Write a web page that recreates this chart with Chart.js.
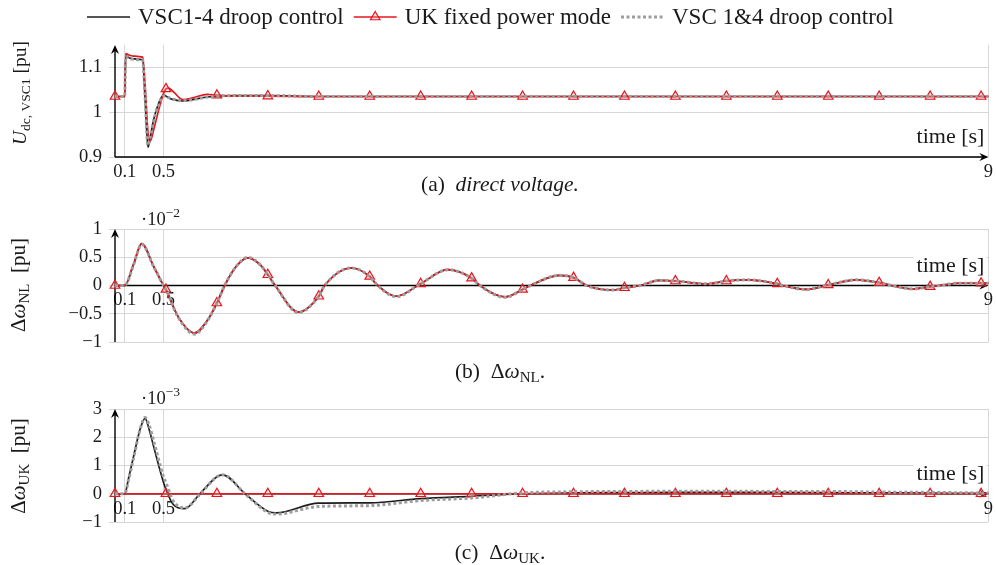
<!DOCTYPE html>
<html>
<head>
<meta charset="utf-8">
<script src="https://cdn.jsdelivr.net/npm/chart.js@4.4.1/dist/chart.umd.min.js"></script>
<style>
  html, body { margin: 0; padding: 0; background: #fff; }
  #page { position: relative; width: 997px; height: 565px; overflow: hidden; }
  #page canvas { position: absolute; left: 0; }
</style>
</head>
<body>
<div id="page">
  <canvas id="chartA" width="997" height="205" style="top:0px"></canvas>
  <canvas id="chartB" width="997" height="195" style="top:195px"></canvas>
  <canvas id="chartC" width="997" height="185" style="top:380px"></canvas>
</div>
<script>
// red markers are placed every 0.525 s
const markerTimes = [0, 0.525, 1.05, 1.575, 2.1, 2.625, 3.15, 3.675, 4.2, 4.725, 5.25, 5.775, 6.3, 6.825, 7.35, 7.875, 8.4, 8.925];

const xTickValues = [0.1, 0.5, 9];
const xTickLabels = ['0.1', '0.5', '9'];

// (a) direct voltage [pu]
const tA = [0, 0.1, 0.11, 0.15, 0.2, 0.25, 0.285, 0.31, 0.34, 0.36, 0.4, 0.45, 0.5, 0.525, 0.55, 0.6, 0.7, 0.8, 0.95, 1.05, 1.2, 1.575, 2.1, 2.625, 3.15, 3.675, 4.2, 4.725, 5.25, 5.775, 6.3, 6.825, 7.35, 7.875, 8.4, 8.925, 9];
const droopA = [1.035, 1.035, 1.126, 1.121, 1.119, 1.118, 1.117, 1.03, 0.922, 0.94, 0.985, 1.02, 1.038, 1.036, 1.032, 1.028, 1.025, 1.028, 1.034, 1.036, 1.037, 1.037, 1.035, 1.035, 1.035, 1.035, 1.035, 1.035, 1.035, 1.035, 1.035, 1.035, 1.035, 1.035, 1.035, 1.035, 1.035];
const fixedA = [1.035, 1.035, 1.131, 1.127, 1.125, 1.124, 1.123, 1.06, 0.955, 0.934, 0.962, 1.005, 1.042, 1.052, 1.054, 1.046, 1.028, 1.032, 1.04, 1.038, 1.036, 1.036, 1.035, 1.035, 1.035, 1.035, 1.035, 1.035, 1.035, 1.035, 1.035, 1.035, 1.035, 1.035, 1.035, 1.035, 1.035];
const droop14A = [1.035, 1.035, 1.124, 1.12, 1.118, 1.117, 1.116, 1.035, 0.926, 0.942, 0.982, 1.016, 1.036, 1.036, 1.033, 1.029, 1.026, 1.028, 1.034, 1.036, 1.037, 1.037, 1.035, 1.035, 1.035, 1.035, 1.035, 1.035, 1.035, 1.035, 1.035, 1.035, 1.035, 1.035, 1.035, 1.035, 1.035];
const yTicksA = [0.9, 1, 1.1];

// (b) frequency deviation NL [x1e-2 pu]
const tB = [0, 0.1, 0.19, 0.275, 0.4, 0.5, 0.525, 0.65, 0.82, 0.95,
  1.05, 1.13, 1.25, 1.37, 1.5, 1.575, 1.65, 1.89, 2.1, 2.16,
  2.44, 2.625, 2.69, 2.9, 3.12, 3.15, 3.43, 3.675, 3.76, 4.02,
  4.2, 4.28, 4.58, 4.725, 4.86, 5.13, 5.25, 5.41, 5.61, 5.775,
  6.1, 6.3, 6.5, 6.825, 6.88, 7.12, 7.35, 7.64, 7.875, 8.0,
  8.22, 8.4, 8.5, 8.7, 8.925, 9];
const droopB = [0, 0, 0.37, 0.74, 0.33, 0, -0.07, -0.55, -0.84, -0.62,
  -0.31, 0, 0.34, 0.49, 0.36, 0.19, 0, -0.47, -0.19, 0,
  0.31, 0.16, 0.03, -0.19, 0, 0.03, 0.28, 0.13, 0, -0.2,
  -0.07, 0, 0.18, 0.14, 0, -0.08, -0.04, 0, 0.09, 0.08,
  0.03, 0.08, 0.1, 0.03, 0, -0.07, 0.01, 0.1, 0.05, 0,
  -0.06, -0.02, 0, 0.04, 0.04, 0.04];
const fixedB = [0, 0, 0.37, 0.74, 0.33, 0, -0.07, -0.55, -0.84, -0.62,
  -0.31, 0, 0.34, 0.49, 0.36, 0.19, 0, -0.47, -0.19, 0,
  0.31, 0.16, 0.03, -0.19, 0, 0.03, 0.28, 0.13, 0, -0.2,
  -0.07, 0, 0.18, 0.14, 0, -0.08, -0.04, 0, 0.09, 0.08,
  0.03, 0.08, 0.1, 0.03, 0, -0.07, 0.01, 0.1, 0.05, 0,
  -0.06, -0.02, 0, 0.04, 0.04, 0.04];
const droop14B = [0, 0, 0.36, 0.73, 0.33, 0, -0.07, -0.56, -0.86, -0.63,
  -0.31, 0, 0.34, 0.5, 0.36, 0.19, 0, -0.48, -0.19, 0,
  0.31, 0.16, 0.03, -0.2, 0, 0.03, 0.28, 0.13, 0, -0.21,
  -0.07, 0, 0.18, 0.14, 0, -0.08, -0.04, 0, 0.09, 0.08,
  0.03, 0.08, 0.1, 0.03, 0, -0.07, 0.01, 0.1, 0.05, 0,
  -0.06, -0.02, 0, 0.04, 0.04, 0.04];
const yTicksB = [-1, -0.5, 0, 0.5, 1];

// (c) frequency deviation UK [x1e-3 pu]
const tC = [0, 0.1, 0.14, 0.2, 0.26, 0.31, 0.35, 0.4, 0.5, 0.525,
  0.6, 0.72, 0.875, 1.05, 1.11, 1.34, 1.575, 1.66, 2.1, 2.625,
  3.15, 3.675, 4.2, 4.725, 5.25, 5.775, 6.3, 6.825, 7.35, 7.875,
  8.4, 8.925, 9];
const droopC = [0, 0, 0.55, 1.45, 2.3, 2.67, 2.3, 1.65, 0.4, 0.15,
  -0.38, -0.53, 0, 0.6, 0.67, 0, -0.62, -0.68, -0.33, -0.32,
  -0.17, -0.09, 0, 0.03, 0.04, 0.05, 0.05, 0.05, 0.04, 0.03,
  0.02, 0.01, 0.01];
const fixedC = [0, 0, 0, 0, 0, 0, 0, 0, 0, 0,
  0, 0, 0, 0, 0, 0, 0, 0, 0, 0,
  0, 0, 0, 0, 0, 0, 0, 0, 0, 0,
  0, 0, 0];
const droop14C = [0, 0, 0.5, 1.4, 2.3, 2.7, 2.45, 1.85, 0.6, 0.4,
  -0.25, -0.5, -0.02, 0.6, 0.67, 0, -0.66, -0.72, -0.45, -0.42,
  -0.24, -0.15, 0.03, 0.07, 0.08, 0.09, 0.09, 0.08, 0.08, 0.06,
  0.05, 0.03, 0.03];
const yTicksC = [-1, 0, 1, 2, 3];

const SERIF = '"Liberation Serif", "Times New Roman", serif';
const BLACK = '#1c1c1c';
const RED = '#e3161d';
const GRAY = '#9d9d9d';
const GRID = '#d6d6d6';

Chart.defaults.font.family = SERIF;
Chart.defaults.font.size = 18.5;
Chart.defaults.color = '#1a1a1a';

const fmt = v => String(v).replace('-', '\u2212');

// text made of several runs (normal, italic, subscript, superscript)
function drawRuns(ctx, runs, x, y, align) {
  let w = 0;
  runs.forEach(r => { ctx.font = r.f; w += ctx.measureText(r.t).width; });
  let cx = align === 'center' ? x - w / 2 : align === 'right' ? x - w : x;
  ctx.textAlign = 'left';
  ctx.textBaseline = 'alphabetic';
  runs.forEach(r => {
    ctx.font = r.f;
    ctx.fillText(r.t, cx, y + (r.dy || 0));
    cx += ctx.measureText(r.t).width;
  });
  return w;
}

function arrowHead(ctx, x, y, dx, dy) {
  const px = -dy, py = dx;
  ctx.beginPath();
  ctx.moveTo(x, y);
  ctx.lineTo(x - dx * 9 + px * 4, y - dy * 9 + py * 4);
  ctx.lineTo(x - dx * 6, y - dy * 6);
  ctx.lineTo(x - dx * 9 - px * 4, y - dy * 9 - py * 4);
  ctx.closePath();
  ctx.fill();
}

const f = (size, style) => `${style || ''} ${size}px ${SERIF}`.trim();

const decor = {
  id: 'decor',
  beforeDatasetsDraw(chart, args, o) {
    const { ctx, chartArea: a, scales } = chart;
    const ay = scales.y.getPixelForValue(o.axisAt);
    ctx.save();
    ctx.strokeStyle = '#000';
    ctx.fillStyle = '#000';
    ctx.lineWidth = 1.4;
    ctx.beginPath();
    ctx.moveTo(a.left, a.bottom);
    ctx.lineTo(a.left, a.top + 4);
    ctx.moveTo(a.left, ay);
    ctx.lineTo(a.right - 4, ay);
    ctx.stroke();
    arrowHead(ctx, a.left, a.top, 0, -1);
    arrowHead(ctx, a.right, ay, 1, 0);
    ctx.restore();
  },
  afterDraw(chart, args, o) {
    const { ctx, chartArea: a, scales } = chart;
    const top = o.top;
    const ay = scales.y.getPixelForValue(o.axisAt);
    ctx.save();
    ctx.fillStyle = '#1a1a1a';

    // x-axis label with white box behind it
    ctx.font = f(22);
    const tw = ctx.measureText('time [s]').width;
    ctx.fillStyle = '#fff';
    ctx.fillRect(a.right - 4 - tw - 3, ay - 30, tw + 5, 21);
    ctx.fillStyle = '#1a1a1a';
    drawRuns(ctx, [{ t: 'time [s]', f: f(22) }], a.right - 4, ay - 14, 'right');

    // rotated y-axis title
    ctx.save();
    ctx.translate(o.yTitleX, o.yTitleY - top);
    ctx.rotate(-Math.PI / 2);
    drawRuns(ctx, o.yTitle, 0, 0, 'center');
    ctx.restore();

    if (o.exponent) {
      drawRuns(ctx, [{ t: '\u00b710', f: f(18.5) }, { t: o.exponent, f: f(13.5), dy: -8 }], 141, o.expY - top, 'left');
    }

    drawRuns(ctx, o.caption, 500, o.captionY - top, 'center');

    if (o.legend) {
      const ds = chart.data.datasets;
      const ly = 17;
      let x = 87;
      [ds[0], ds[1], ds[2]].forEach(d => {
        ctx.save();
        ctx.strokeStyle = d.borderColor;
        ctx.lineWidth = d.borderWidth;
        ctx.setLineDash(d.borderDash || []);
        ctx.beginPath();
        ctx.moveTo(x, ly);
        ctx.lineTo(x + 43, ly);
        ctx.stroke();
        ctx.setLineDash([]);
        if (d.pointStyle === 'triangle') {
          const r = 5.5, cx = x + 21.5;
          ctx.beginPath();
          ctx.moveTo(cx, ly - r);
          ctx.lineTo(cx + r * 0.866, ly + r * 0.5);
          ctx.lineTo(cx - r * 0.866, ly + r * 0.5);
          ctx.closePath();
          ctx.fillStyle = d.pointBackgroundColor;
          ctx.fill();
          ctx.strokeStyle = d.pointBorderColor;
          ctx.lineWidth = d.pointBorderWidth;
          ctx.stroke();
        }
        ctx.restore();
        x += 51;
        ctx.fillStyle = '#1a1a1a';
        x += drawRuns(ctx, [{ t: d.label, f: f(23) }], x, 24, 'left') + 10;
      });
    }
    ctx.restore();
  }
};

function series(times, values) {
  return times.map((t, i) => ({ x: t, y: values[i] }));
}

function buildPanel(id, times, droop, fixed, droop14, yMin, yMax, yTicks, padding, decorOpts) {
  const xAxisBottom = decorOpts.axisAt === yMin;
  return new Chart(document.getElementById(id), {
    type: 'line',
    data: {
      datasets: [
        {
          label: 'VSC1-4 droop control',
          data: series(times, droop),
          borderColor: BLACK,
          borderWidth: 1.7,
          pointRadius: 0,
          order: 3
        },
        {
          label: 'UK fixed power mode',
          data: series(times, fixed),
          borderColor: RED,
          borderWidth: 1.7,
          pointStyle: 'triangle',
          pointRadius: c => (c.raw && markerTimes.includes(c.raw.x) ? 5.5 : 0),
          pointBackgroundColor: 'rgba(255,170,170,0.3)',
          pointBorderColor: RED,
          pointBorderWidth: 1.2,
          order: 2
        },
        {
          label: 'VSC 1&4 droop control',
          data: series(times, droop14),
          borderColor: GRAY,
          borderWidth: 3,
          borderDash: [3, 2.5],
          pointRadius: 0,
          order: 1
        }
      ]
    },
    options: {
      responsive: false,
      animation: false,
      events: [],
      datasets: { line: { cubicInterpolationMode: 'monotone', clip: false } },
      layout: { padding: padding },
      scales: {
        x: {
          type: 'linear',
          min: 0,
          max: 9,
          position: xAxisBottom ? 'bottom' : { y: decorOpts.axisAt },
          afterBuildTicks: s => { s.ticks = xTickValues.map(v => ({ value: v })); },
          afterFit: s => { if (xAxisBottom) s.height = 48; },
          border: { display: false },
          grid: { color: GRID, lineWidth: 1, drawTicks: false },
          ticks: {
            autoSkip: false,
            maxRotation: 0,
            padding: 4,
            callback: v => xTickLabels[xTickValues.indexOf(v)]
          }
        },
        y: {
          type: 'linear',
          min: yMin,
          max: yMax,
          afterBuildTicks: s => { s.ticks = yTicks.map(v => ({ value: v })); },
          afterFit: s => { s.width = 115; },
          border: { display: false },
          grid: { color: GRID, lineWidth: 1, drawTicks: true, tickLength: 6 },
          ticks: { padding: 7, callback: v => fmt(v) }
        }
      },
      plugins: {
        legend: { display: false },
        tooltip: { enabled: false },
        decor: decorOpts
      }
    },
    plugins: [decor]
  });
}

buildPanel('chartA', tA, droopA, fixedA, droop14A, 0.9, 1.15, yTicksA,
  { top: 45, right: 8, left: 0, bottom: 0 },
  {
    top: 0, axisAt: 0.9, legend: true,
    yTitleX: 26, yTitleY: 93,
    yTitle: [{ t: 'U', f: f(19.5, 'italic') }, { t: 'dc, VSC1', f: f(13.5), dy: 4 }, { t: ' [pu]', f: f(19.5) }],
    captionY: 191,
    caption: [{ t: '(a)  ', f: f(21.5) }, { t: 'direct voltage.', f: f(21.5, 'italic') }]
  });

buildPanel('chartB', tB, droopB, fixedB, droop14B, -1, 1, yTicksB,
  { top: 34, right: 8, left: 0, bottom: 48 },
  {
    top: 195, axisAt: 0,
    yTitleX: 25, yTitleY: 285,
    yTitle: [{ t: '\u0394', f: f(21) }, { t: '\u03c9', f: f(21, 'italic') }, { t: 'NL', f: f(15), dy: 4 }, { t: '  [pu]', f: f(21) }],
    exponent: '\u22122', expY: 225,
    captionY: 378,
    caption: [{ t: '(b)  \u0394', f: f(21.5) }, { t: '\u03c9', f: f(21.5, 'italic') }, { t: 'NL', f: f(15), dy: 4 }, { t: '.', f: f(21.5) }]
  });

buildPanel('chartC', tC, droopC, fixedC, droop14C, -1, 3, yTicksC,
  { top: 29, right: 8, left: 0, bottom: 43 },
  {
    top: 380, axisAt: 0,
    yTitleX: 25, yTitleY: 466,
    yTitle: [{ t: '\u0394', f: f(21) }, { t: '\u03c9', f: f(21, 'italic') }, { t: 'UK', f: f(15), dy: 4 }, { t: '  [pu]', f: f(21) }],
    exponent: '\u22123', expY: 404,
    captionY: 559,
    caption: [{ t: '(c)  \u0394', f: f(21.5) }, { t: '\u03c9', f: f(21.5, 'italic') }, { t: 'UK', f: f(15), dy: 4 }, { t: '.', f: f(21.5) }]
  });
</script>
</body>
</html>
